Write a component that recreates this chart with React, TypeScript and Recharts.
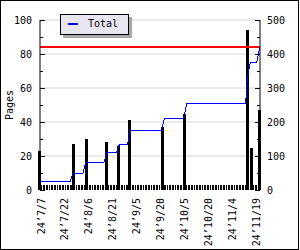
import React from 'react';
import { ComposedChart, Bar, Line, XAxis, YAxis, CartesianGrid, ReferenceLine, Legend } from 'recharts';

const FONT = '"DejaVu Sans Mono", monospace';

// cumulative pages per day (left axis), from 24'7/7
const total = [
  5, 5, 5, 5, 5, 5, 5, 5, 5, 5,
  5, 5, 5, 5, 5, 5, 5, 5, 5, 5,
  8, 10, 10, 10, 10, 10, 10, 10, 14, 16,
  16, 16, 16, 16, 16, 16, 16, 16, 16, 16,
  16, 19, 22, 22, 22, 22, 22, 22, 22, 25,
  27, 27, 27, 27, 27, 27, 32, 35, 35, 35,
  35, 35, 35, 35, 35, 35, 35, 35, 35, 35,
  35, 35, 35, 35, 35, 35, 35, 38, 42, 42,
  42, 42, 42, 42, 42, 42, 42, 42, 42, 42,
  42, 46, 51, 51, 51, 51, 51, 51, 51, 51,
  51, 51, 51, 51, 51, 51, 51, 51, 51, 51,
  51, 51, 51, 51, 51, 51, 51, 51, 51, 51,
  51, 51, 51, 51, 51, 51, 51, 51, 51, 51,
  65, 71, 75, 75, 75, 75, 75, 80, 84,
];

// daily counts (right axis)
const daily = [
  115, 15, 15, 15, 15, 15, 15, 15, 15, 15,
  15, 15, 15, 15, 15, 15, 15, 15, 15, 15,
  15, 135, 15, 15, 15, 15, 15, 15, 15, 150,
  15, 15, 15, 15, 15, 15, 15, 15, 15, 15,
  15, 15, 141, 15, 15, 15, 15, 15, 15, 129,
  15, 15, 15, 15, 15, 15, 206, 15, 15, 15,
  15, 15, 15, 15, 15, 15, 15, 15, 15, 15,
  15, 15, 15, 15, 15, 15, 15, 185, 15, 15,
  15, 15, 15, 15, 15, 15, 15, 15, 15, 15,
  15, 224, 15, 15, 15, 15, 15, 15, 15, 15,
  15, 15, 15, 15, 15, 15, 15, 15, 15, 15,
  15, 15, 15, 15, 15, 15, 15, 15, 15, 15,
  15, 15, 15, 15, 15, 15, 15, 15, 15, 15,
  470, 15, 15, 124, 15, 15, 15, 15, 235,
];

const tickDays = [0, 15, 30, 45, 60, 75, 90, 105, 120, 135];
const tickLabels = ['24’7/7', '24’7/22', '24’8/6', '24’8/21', '24’9/5', '24’9/20', '24’10/5', '24’10/20', '24’11/4', '24’11/19'];
const leftTicks = [0, 10, 20, 30, 40, 50, 60, 70, 80, 90, 100];
const rightTicks = [0, 50, 100, 150, 200, 250, 300, 350, 400, 450, 500];
const gridValues = [20, 40, 60, 80, 100];
const target = 84;

const data = total.map((t, i) => ({ day: i, total: t, daily: daily[i] }));

const LeftTick = (props: any) => {
  const { x, y, payload } = props;
  const v = payload.value;
  const axisX = x + 8;
  const major = v % 20 === 0;
  return (
    <g>
      <line x1={axisX} x2={axisX + (major ? 5 : 3)} y1={y + 0.5} y2={y + 0.5} stroke="#000" shapeRendering="crispEdges" />
      {major && (
        <text x={x} y={y} dy="0.35em" textAnchor="end" fontSize={10} fontFamily={FONT} fill="#000">{v}</text>
      )}
    </g>
  );
};

const RightTick = (props: any) => {
  const { x, y, payload } = props;
  const v = payload.value;
  const axisX = x - 7;
  const major = v % 100 === 0;
  return (
    <g>
      <line x1={axisX} x2={axisX - (major ? 5 : 3)} y1={y + 0.5} y2={y + 0.5} stroke="#000" shapeRendering="crispEdges" />
      {major && (
        <text x={x} y={y} dy="0.35em" textAnchor="start" fontSize={10} fontFamily={FONT} fill="#000">{v}</text>
      )}
    </g>
  );
};

const XTick = (props: any) => {
  const { x, y, payload } = props;
  const label = tickLabels[tickDays.indexOf(payload.value)];
  const lx = x + 1;
  return (
    <text x={lx} y={y} dy="0.35em" textAnchor="end" transform={`rotate(-90, ${lx}, ${y})`} fontSize={10} fontFamily={FONT} fill="#000">
      {label}
    </text>
  );
};

const PagesLabel = (props: any) => {
  const vb = props.viewBox || { x: 0, y: 20, width: 40, height: 170 };
  const cx = vb.x + 9;
  const cy = vb.y + vb.height / 2;
  return (
    <text x={cx} y={cy} dy="0.35em" textAnchor="middle" transform={`rotate(-90, ${cx}, ${cy})`} fontSize={10} fontFamily={FONT} fill="#000">
      Pages
    </text>
  );
};

// thin daily stick; the larger days are drawn as a heavier stroke like the original
const DayBar = (props: any) => {
  const { x, y, width, height, value } = props;
  if (!height || height <= 0) return null;
  const v = Array.isArray(value) ? value[1] : value;
  const w = v > 50 ? 3 : 1;
  const cx = x + width / 2;
  return <rect x={Math.round(cx - w / 2)} y={Math.round(y)} width={w} height={Math.round(height)} fill="#000" shapeRendering="crispEdges" />;
};

const LegendBox = (props: any) => {
  const items = (props.payload || []).filter((p: any) => p.dataKey === 'total');
  return (
    <div style={{ position: 'relative', width: 69, height: 21 }}>
      <div style={{ position: 'absolute', left: 3, top: 3, width: 69, height: 21, background: '#a8a8a8' }} />
      <div style={{ position: 'absolute', left: 0, top: 0, width: 69, height: 21, boxSizing: 'border-box', border: '1px solid #000', background: '#e8e6f0' }}>
        {items.map((p: any) => (
          <React.Fragment key={p.value}>
            <span style={{ position: 'absolute', left: 7, top: 8, width: 10, height: 2, background: p.color }} />
            <span style={{ position: 'absolute', left: 27, top: 3, fontSize: 10, lineHeight: '12px', fontFamily: FONT, color: '#000' }}>{p.value}</span>
          </React.Fragment>
        ))}
      </div>
    </div>
  );
};

export default function App() {
  return (
    <div style={{ position: 'fixed', left: 0, top: 0, width: 300, height: 250, background: '#fff' }}>
      <ComposedChart width={300} height={250} data={data} margin={{ top: 20, right: 0, bottom: 0, left: 0 }}>
        <CartesianGrid yAxisId="left" vertical={false} horizontalValues={gridValues} stroke="#d4d4d4" />
        <XAxis dataKey="day" type="number" domain={[0, 138]} ticks={tickDays} interval={0} tick={<XTick />} tickLine={false} axisLine={false} tickSize={0} tickMargin={8} height={60} />
        <YAxis yAxisId="left" domain={[0, 100]} ticks={leftTicks} interval={0} width={40} tick={<LeftTick />} tickLine={false} tickSize={0} tickMargin={8} axisLine={{ stroke: '#000' }} label={<PagesLabel />} />
        <YAxis yAxisId="right" orientation="right" domain={[0, 500]} ticks={rightTicks} interval={0} width={40} tick={<RightTick />} tickLine={false} tickSize={0} tickMargin={7} axisLine={{ stroke: '#000' }} />
        <ReferenceLine yAxisId="left" y={target} stroke="#ff0000" strokeWidth={2} shapeRendering="crispEdges" />
        <Line yAxisId="left" dataKey="total" name="Total" type="linear" stroke="#0000ff" strokeWidth={1} shapeRendering="crispEdges" dot={false} isAnimationActive={false} />
        <Bar yAxisId="right" dataKey="daily" fill="#000" barSize={2} legendType="none" shape={<DayBar />} isAnimationActive={false} />
        <Legend layout="vertical" align="center" verticalAlign="middle" content={<LegendBox />} wrapperStyle={{ left: 60, top: 14, width: 'auto' }} />
      </ComposedChart>
      <div style={{ position: 'absolute', left: 0, top: 0, width: 299, height: 250, boxSizing: 'border-box', border: '1px solid #000', pointerEvents: 'none' }} />
    </div>
  );
}
